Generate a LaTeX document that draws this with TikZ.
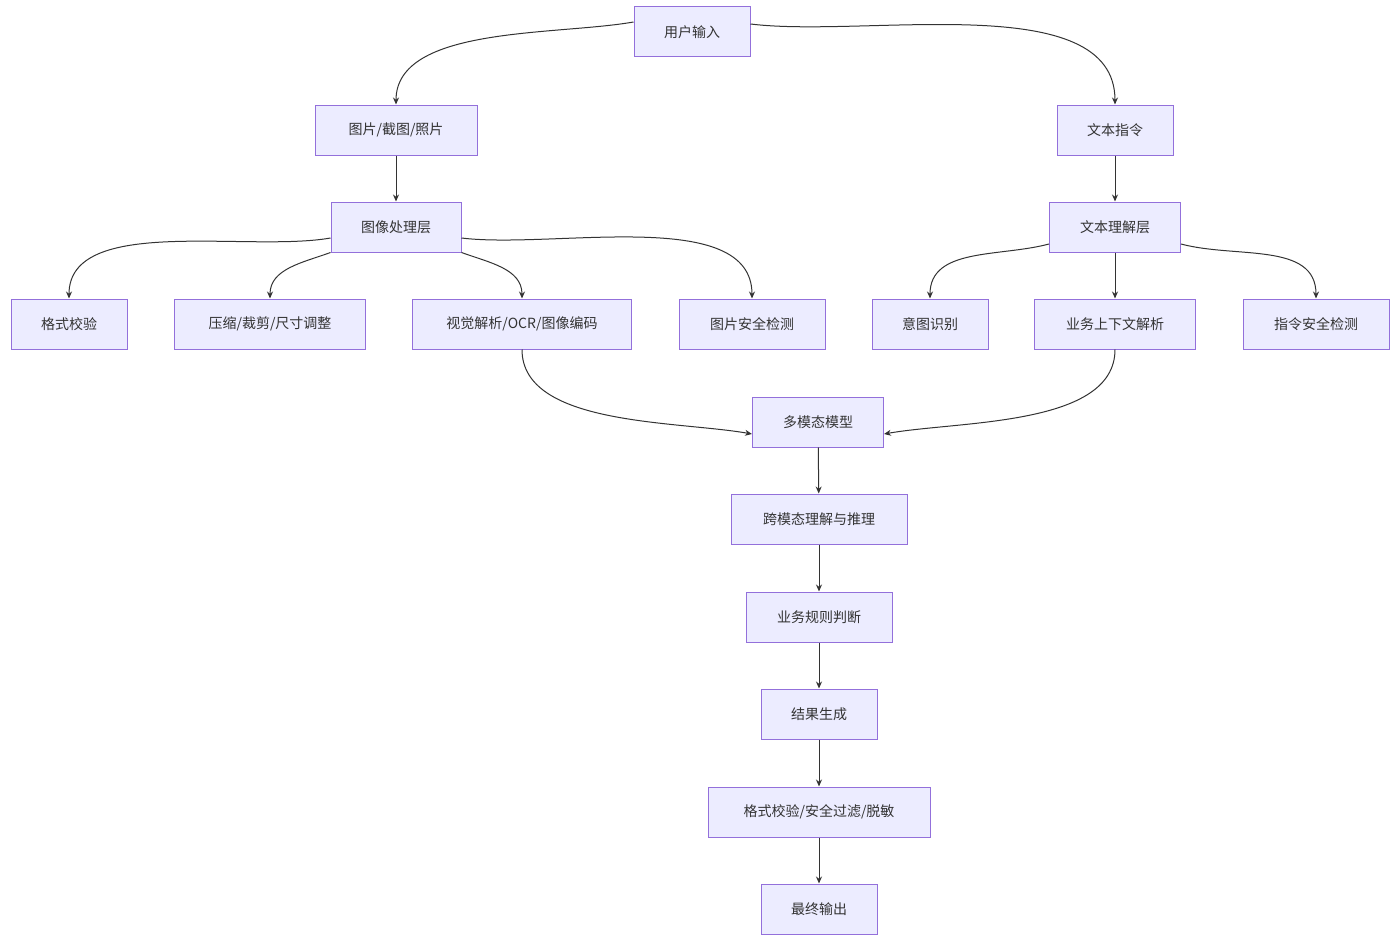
\documentclass[tikz,border=0pt]{standalone}
\usepackage{fontspec}
\setmainfont{Noto Sans CJK SC}
\usetikzlibrary{arrows.meta}
\definecolor{boxfill}{HTML}{ECECFF}
\definecolor{boxline}{HTML}{9370DB}
\definecolor{edge}{HTML}{333333}
\begin{document}
\begin{tikzpicture}[x=1pt,y=-1pt,
    box/.style={draw=boxline,fill=boxfill,line width=1pt,minimum height=50pt,inner sep=0pt,font=\fontsize{14}{16}\selectfont,text=edge},
    arr/.style={draw=edge,line width=1pt,-{Stealth[length=7pt,width=6pt]}}]
    \useasboundingbox (0,0) rectangle (1400,942);

    % Top
    \node[box,minimum width=116pt] (input) at (692,32) {用户输入};
    \node[box,minimum width=162pt] (img) at (396,130) {图片/截图/照片};
    \node[box,minimum width=116pt] (txt) at (1115,130) {文本指令};
    \node[box,minimum width=130pt] (imgproc) at (396,227) {图像处理层};
    \node[box,minimum width=131pt] (txtproc) at (1115,227) {文本理解层};

    % Middle row
    \node[box,minimum width=116pt] (fmt) at (69,324) {格式校验};
    \node[box,minimum width=191pt] (resize) at (270,324) {压缩/裁剪/尺寸调整};
    \node[box,minimum width=219pt] (ocr) at (522,324) {视觉解析/OCR/图像编码};
    \node[box,minimum width=146pt] (imgsafe) at (752,324) {图片安全检测};
    \node[box,minimum width=116pt] (intent) at (930,324) {意图识别};
    \node[box,minimum width=161pt] (ctx) at (1115,324) {业务上下文解析};
    \node[box,minimum width=146pt] (cmdsafe) at (1316,324) {指令安全检测};

    % Pipeline
    \node[box,minimum width=131pt] (mm) at (818,422) {多模态模型};
    \node[box,minimum width=176pt] (reason) at (819,519) {跨模态理解与推理};
    \node[box,minimum width=146pt] (rule) at (819,617) {业务规则判断};
    \node[box,minimum width=116pt] (gen) at (819,714) {结果生成};
    \node[box,minimum width=222pt] (filter) at (819,812) {格式校验/安全过滤/脱敏};
    \node[box,minimum width=116pt] (out) at (819,909) {最终输出};

    % Edges
    \draw[arr] ([yshift=10pt]input.west) to[out=190,in=90,looseness=0.8] (img.north);
    \draw[arr] ([yshift=8pt]input.east) to[out=-7,in=90,looseness=0.8] (txt.north);
    \draw[arr] (img) -- (imgproc);
    \draw[arr] (txt) -- (txtproc);
    \draw[arr] ([yshift=-11pt]imgproc.west) to[out=190,in=90,looseness=0.8] (fmt.north);
    \draw[arr] (imgproc.south west) to[out=200,in=90] (resize.north);
    \draw[arr] (imgproc.south east) to[out=-20,in=90] (ocr.north);
    \draw[arr] ([yshift=-11pt]imgproc.east) to[out=-7,in=90,looseness=0.8] (imgsafe.north);
    \draw[arr] ([yshift=-17pt]txtproc.west) to[out=195,in=90] (intent.north);
    \draw[arr] (txtproc) -- (ctx);
    \draw[arr] ([yshift=-17pt]txtproc.east) to[out=-15,in=90] (cmdsafe.north);
    \draw[arr] (ocr.south) to[out=-90,in=170,looseness=0.8] ([yshift=-12pt]mm.west);
    \draw[arr] (ctx.south) to[out=-90,in=10,looseness=0.8] ([yshift=-12pt]mm.east);
    \draw[arr] (mm) -- (reason);
    \draw[arr] (reason) -- (rule);
    \draw[arr] (rule) -- (gen);
    \draw[arr] (gen) -- (filter);
    \draw[arr] (filter) -- (out);

\end{tikzpicture}
\end{document}
